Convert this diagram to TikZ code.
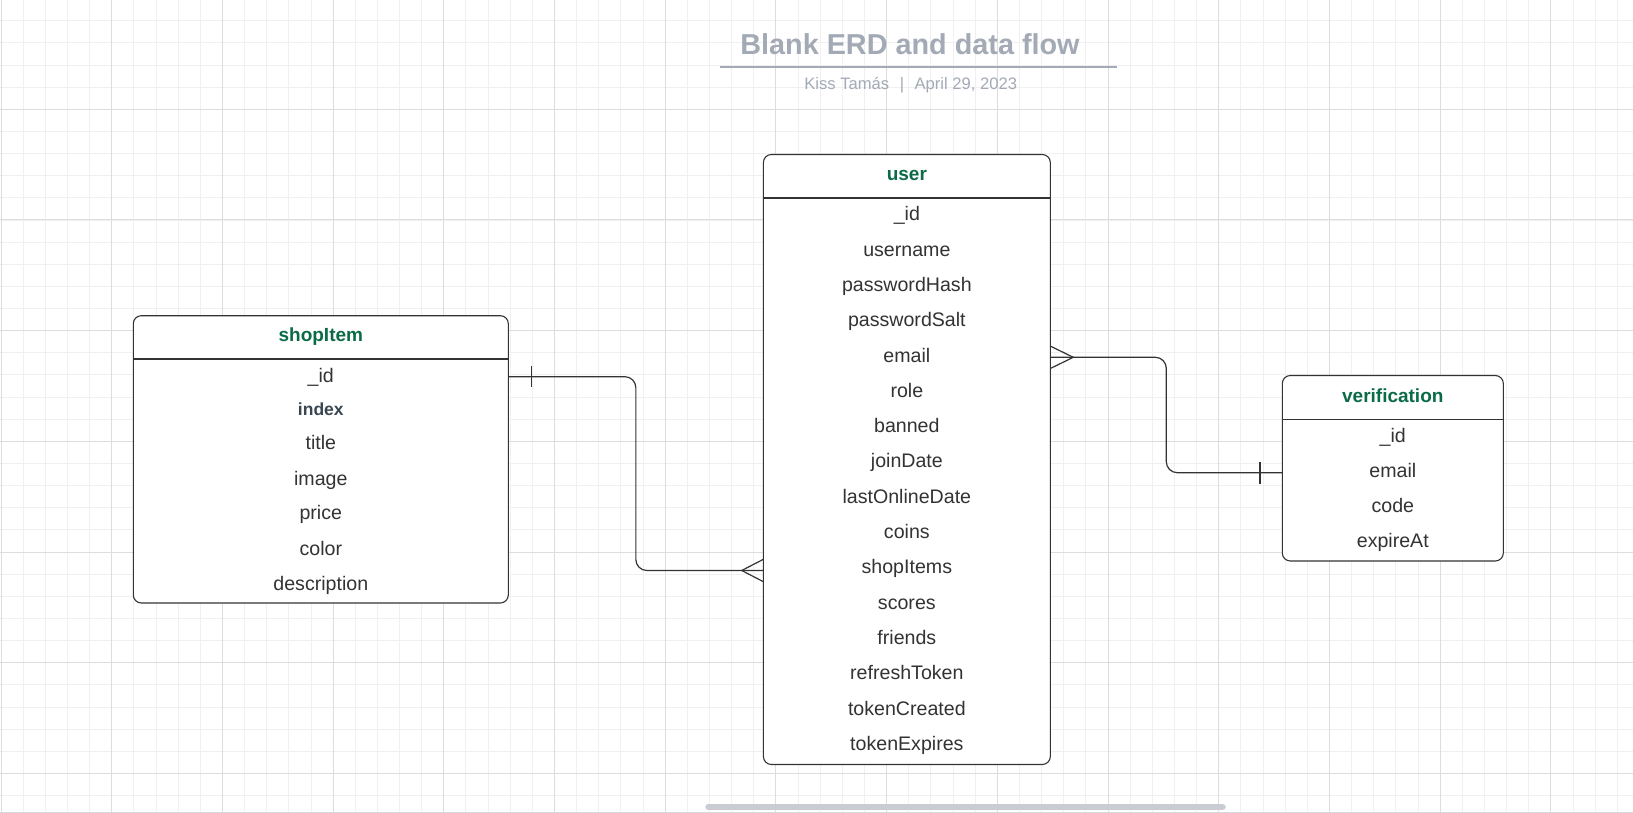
\documentclass[tikz,border=0pt]{standalone}
\usepackage{fontspec}
\setmainfont{Liberation Sans}
\usetikzlibrary{calc}
\definecolor{lineC}{HTML}{333333}
\definecolor{rowC}{HTML}{333333}
\definecolor{hdrC}{HTML}{0B6B47}
\definecolor{idxC}{HTML}{3A4650}
\definecolor{titleC}{HTML}{A3AAB5}
\definecolor{gridMinorC}{HTML}{F0F0F0}
\definecolor{gridMajorC}{HTML}{DDDDDD}
\definecolor{scrollC}{HTML}{C9CDD3}
\definecolor{borderC}{HTML}{D5D8DD}
\begin{document}
\begin{tikzpicture}[x=1pt,y=-1pt,
  tbl/.style={draw=lineC, line width=1.1pt, fill=white, rounded corners=8pt, inner sep=0pt, outer sep=0pt, anchor=north west},
  sepline/.style={draw=lineC, line width=1.1pt},
  rowtxt/.style={anchor=base, inner sep=0pt, text=rowC, font=\fontsize{19.6}{23}\selectfont},
  idxtxt/.style={anchor=base, inner sep=0pt, text=idxC, font=\bfseries\fontsize{17.5}{21}\selectfont},
  hdrtxt/.style={anchor=base, inner sep=0pt, text=hdrC, font=\bfseries\fontsize{19}{22}\selectfont},
  conn/.style={draw=lineC, line width=1.2pt},
  gridminor/.style={draw=gridMinorC, line width=0.9pt},
  gridmajor/.style={draw=gridMajorC, line width=1pt}]
\useasboundingbox (0,0) rectangle (1633,813);
\fill[white] (0,0) rectangle (1633,813);
% grid
\foreach \k in {0,...,73} \draw[gridminor] (1+22.14*\k,0) -- (1+22.14*\k,813);
\foreach \k in {0,...,35} \draw[gridminor] (0,20.7+22.14*\k) -- (1633,20.7+22.14*\k);
\foreach \k in {0,...,14} \draw[gridmajor] (1+110.7*\k,0) -- (1+110.7*\k,813);
\foreach \k in {0,...,6} \draw[gridmajor] (0,109.3+110.7*\k) -- (1633,109.3+110.7*\k);
\draw[borderC, line width=1pt] (0,812.5) -- (1633,812.5);
% title
\node[anchor=base, inner sep=0pt, text=titleC, font=\bfseries\fontsize{28.8}{33}\selectfont] (title) at (910,55) {Blank ERD and data flow};
\draw[titleC, line width=2pt] (720,66.7) -- (1116.7,66.7);
\node[anchor=base, inner sep=0pt, text=titleC, font=\fontsize{16.6}{20}\selectfont] (subtitle) at (910.7,89.3) {Kiss Tamás\hspace{10.5pt}|\hspace{10.5pt}April 29, 2023};
% user table
\node[tbl, minimum width=286.9pt, minimum height=610pt] (user) at (763.4,154.5) {};
\draw[sepline] ($(user.north west)+(0,43.5)$) -- ($(user.north east)+(0,43.5)$);
\node[hdrtxt] (userhdr) at ($(user.north)+(0,26.2)$) {user};
\foreach \t [count=\i from 0] in {\_id,username,passwordHash,passwordSalt,email,role,banned,joinDate,lastOnlineDate,coins,shopItems,scores,friends,refreshToken,tokenCreated,tokenExpires}
  \node[rowtxt] (urow\i) at ($(user.north)+(0,66.3+35.3*\i)$) {\t};
% shopItem table
\node[tbl, minimum width=375pt, minimum height=287.3pt] (shop) at (133.3,315.7) {};
\draw[sepline] ($(shop.north west)+(0,43.3)$) -- ($(shop.north east)+(0,43.3)$);
\node[hdrtxt] (shophdr) at ($(shop.north)+(0,25.3)$) {shopItem};
\node[rowtxt] (srow0) at ($(shop.north)+(0,66.8)$) {\_id};
\node[idxtxt] (srow1) at ($(shop.north)+(0,99.3)$) {index};
\node[rowtxt] (srow2) at ($(shop.north)+(0,134.2)$) {title};
\node[rowtxt] (srow3) at ($(shop.north)+(0,169.9)$) {image};
\node[rowtxt] (srow4) at ($(shop.north)+(0,203.8)$) {price};
\node[rowtxt] (srow5) at ($(shop.north)+(0,239.3)$) {color};
\node[rowtxt] (srow6) at ($(shop.north)+(0,275)$) {description};
% verification table
\node[tbl, minimum width=221pt, minimum height=185.5pt] (verif) at (1282.3,375.5) {};
\draw[sepline] ($(verif.north west)+(0,43.8)$) -- ($(verif.north east)+(0,43.8)$);
\node[hdrtxt] (verifhdr) at ($(verif.north)+(0,26.6)$) {verification};
\foreach \t [count=\i from 0] in {\_id,email,code,expireAt}
  \node[rowtxt] (vrow\i) at ($(verif.north)+(0,66.6+35.2*\i)$) {\t};
% connectors
\coordinate (s1) at ($(shop.north east)+(0,61)$);
\coordinate (u1) at ($(user.north west)+(0,416)$);
\coordinate (u2) at ($(user.north east)+(0,202.8)$);
\coordinate (v2) at ($(verif.north west)+(0,97.2)$);
\draw[conn, rounded corners=11pt] (s1) -| ($(s1)!0.5!(u1)$) |- (u1);
\draw[conn] ($(s1)+(23.4,-10.7)$) -- ($(s1)+(23.4,10.7)$);
\draw[conn] ($(u1)+(0,-11.2)$) -- ($(u1)+(-21.7,0)$) -- ($(u1)+(0,11.2)$);
\draw[conn, rounded corners=11pt] (u2) -| ($(u2)!0.5!(v2)$) |- (v2);
\draw[conn] ($(u2)+(0,-11.2)$) -- ($(u2)+(23,0)$) -- ($(u2)+(0,11.2)$);
\draw[conn] ($(v2)+(-22.3,-10.8)$) -- ($(v2)+(-22.3,10.8)$);
% scrollbar
\draw[scrollC, line width=6.5pt, line cap=round] (708.5,807) -- (1222.5,807);
\end{tikzpicture}
\end{document}
